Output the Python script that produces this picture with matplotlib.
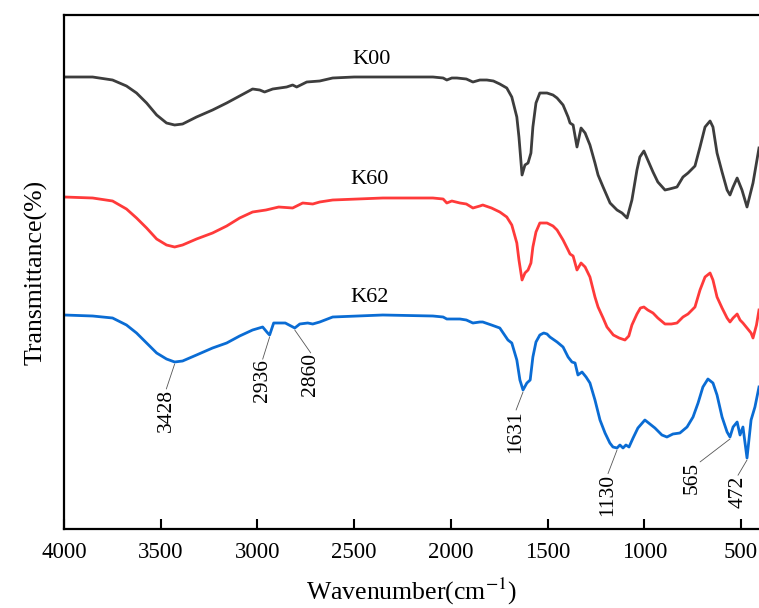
import numpy as np
import matplotlib
matplotlib.use("Agg")
import matplotlib.pyplot as plt

plt.rcParams['font.family'] = ['Liberation Serif', 'DejaVu Serif']
plt.rcParams['mathtext.fontset'] = 'stix'

# FTIR spectra (arbitrary transmittance units, curves already offset)
wn_k00 = [4000, 3852, 3749, 3677, 3625, 3573, 3521, 3470, 3428, 3387, 3315, 3232, 3159,
          3092, 3025, 2988, 2963, 2921, 2849, 2818, 2797, 2745, 2678, 2611, 2500, 2352,
          2200, 2093, 2040, 2021, 1995, 1969, 1920, 1886, 1850, 1814, 1780, 1747, 1711,
          1685, 1659, 1648, 1632, 1617, 1601, 1586, 1576, 1560, 1540, 1503, 1472, 1451,
          1420, 1394, 1384, 1368, 1348, 1327, 1306, 1281, 1255, 1239, 1213, 1177, 1141,
          1115, 1089, 1064, 1038, 1023, 1002, 982, 955, 930, 893, 870, 831, 800, 774,
          738, 712, 686, 660, 645, 624, 598, 572, 557, 541, 520, 495, 469, 438, 407]
t_k00 = [452, 452, 449, 443, 436, 426, 414, 406, 404, 405, 412, 419, 426,
         433, 440, 439, 437, 440, 442, 444, 442, 447, 448, 451, 452, 452,
         452, 452, 451, 449, 451, 451, 450, 447, 449, 449, 448, 445, 441,
         432, 412, 392, 354, 364, 366, 376, 402, 426, 436, 436, 434, 431,
         424, 412, 406, 404, 382, 401, 396, 384, 366, 354, 342, 326, 319,
         316, 311, 329, 359, 372, 378, 369, 357, 347, 339, 340, 342, 352, 356,
         363, 382, 402, 408, 402, 376, 357, 339, 334, 342, 351, 339, 322, 346, 381]

wn_k60 = [4000, 3852, 3749, 3677, 3625, 3573, 3521, 3470, 3428, 3387, 3315, 3232, 3159,
          3092, 3025, 2956, 2890, 2818, 2766, 2714, 2678, 2611, 2352, 2093, 2040, 2021,
          1995, 1953, 1920, 1886, 1850, 1835, 1790, 1747, 1711, 1685, 1659, 1648, 1632,
          1617, 1601, 1586, 1576, 1560, 1540, 1503, 1472, 1451, 1420, 1394, 1384, 1368,
          1348, 1327, 1306, 1281, 1255, 1239, 1213, 1193, 1160, 1130, 1100, 1080, 1064,
          1038, 1020, 1002, 982, 955, 930, 893, 860, 831, 800, 774, 738, 712, 686, 660,
          645, 624, 598, 572, 557, 541, 520, 505, 490, 469, 448, 438, 420, 407]
t_k60 = [332, 331, 328, 320, 311, 301, 290, 284, 282, 284, 290, 296, 303,
         311, 317, 319, 322, 321, 326, 325, 327, 329, 331, 331, 330, 326,
         328, 326, 325, 321, 323, 324, 321, 317, 312, 304, 286, 269, 249,
         256, 259, 266, 282, 297, 306, 306, 303, 299, 289, 279, 275, 273,
         259, 266, 262, 252, 232, 222, 211, 202, 194, 191, 189, 193, 204,
         215, 221, 222, 219, 216, 211, 205, 205, 206, 212, 215, 222, 239, 252, 256,
         249, 232, 221, 211, 207, 211, 215, 209, 206, 201, 196, 191, 204, 219]

wn_k62 = [4000, 3852, 3749, 3677, 3625, 3573, 3521, 3470, 3428, 3387, 3315, 3232, 3159,
          3092, 3025, 2973, 2947, 2937, 2916, 2856, 2807, 2781, 2740, 2714, 2678, 2611,
          2352, 2093, 2040, 2021, 1953, 1920, 1886, 1850, 1835, 1790, 1747, 1705, 1685,
          1659, 1643, 1627, 1607, 1590, 1576, 1560, 1540, 1520, 1503, 1488, 1451, 1420,
          1394, 1374, 1358, 1343, 1322, 1301, 1281, 1255, 1229, 1203, 1178, 1162, 1141,
          1126, 1110, 1095, 1079, 1058, 1033, 997, 971, 945, 909, 883, 852, 816, 779,
          748, 722, 697, 671, 645, 624, 598, 572, 557, 541, 520, 505, 490, 469, 448,
          428, 407]
t_k62 = [214, 213, 211, 204, 196, 186, 176, 170, 167, 168, 174, 181, 186,
         193, 199, 202, 196, 194, 206, 206, 201, 205, 206, 205, 207, 212,
         214, 213, 212, 210, 210, 209, 206, 207, 207, 204, 201, 189, 186,
         169, 149, 139, 146, 149, 172, 187, 194, 196, 195, 192, 187, 182,
         172, 167, 166, 154, 157, 152, 146, 129, 109, 96, 86, 82, 81,
         84, 81, 84, 82, 91, 101, 109, 105, 101, 94, 92, 95, 96, 102,
         112, 126, 142, 150, 146, 134, 112, 97, 92, 102, 107, 94, 102, 71, 109,
         122, 142]

names = ['K00', 'K60', 'K62']
colors = ['#3d3d3d', '#ff3a3a', '#0a6cd4']
name_pos = [(2409, 469), (2419, 349), (2419, 232)]

peak_labels = ['3428', '2936', '2860', '1631', '1130', '565', '472']
peak_wn = [3428, 2937, 2807, 1627, 1141, 557, 469]
peak_offsets = [(-6, -18), (-5, -16), (11.5, -16.5), (-5, -13), (-6.5, -17), (-27, -16.5), (-6.5, -11)]
peak_relpos = [(0.5, 1), (0.5, 1), (0.5, 1), (0.5, 1), (0.5, 1), (0.9, 1), (0.5, 1)]

fig = plt.figure(figsize=(7.59, 6.08), dpi=100)
ax = fig.add_axes([64 / 759, 79 / 608, 695 / 759, 514 / 608])

for wn, t, c in zip([wn_k00, wn_k60, wn_k62], [t_k00, t_k60, t_k62], colors):
    ax.plot(wn, t, color=c, lw=2.0, solid_joinstyle='round')

for n, (x, y) in zip(names, name_pos):
    ax.text(x, y, n, ha='center', va='center', fontsize=16)

for lab, w, off, rp in zip(peak_labels, peak_wn, peak_offsets, peak_relpos):
    y = np.interp(w, wn_k62[::-1], t_k62[::-1])
    ax.annotate(lab, xy=(w, y - 2), xytext=off, textcoords='offset points',
                rotation=90, ha='center', va='top', fontsize=15.5,
                arrowprops=dict(arrowstyle='-', color='#555555', lw=0.6,
                                shrinkA=0, shrinkB=0, patchA=None, relpos=rp))

ax.set_xlim(4000, 407)
ax.set_ylim(0, 514)
ax.set_xticks([4000, 3500, 3000, 2500, 2000, 1500, 1000, 500])
ax.set_yticks([])
ax.tick_params(axis='x', direction='in', length=7, width=1.5, labelsize=16.5, pad=9)
for s in ['left', 'bottom', 'top']:
    ax.spines[s].set_linewidth(1.6)
ax.spines['right'].set_visible(False)

ax.set_xlabel('Wavenumber(cm$^{-1}$)', fontsize=18.5, labelpad=10)
ax.set_ylabel('Transmittance(%)', fontsize=18.5, labelpad=12)

fig.savefig('out.png', dpi=100)
